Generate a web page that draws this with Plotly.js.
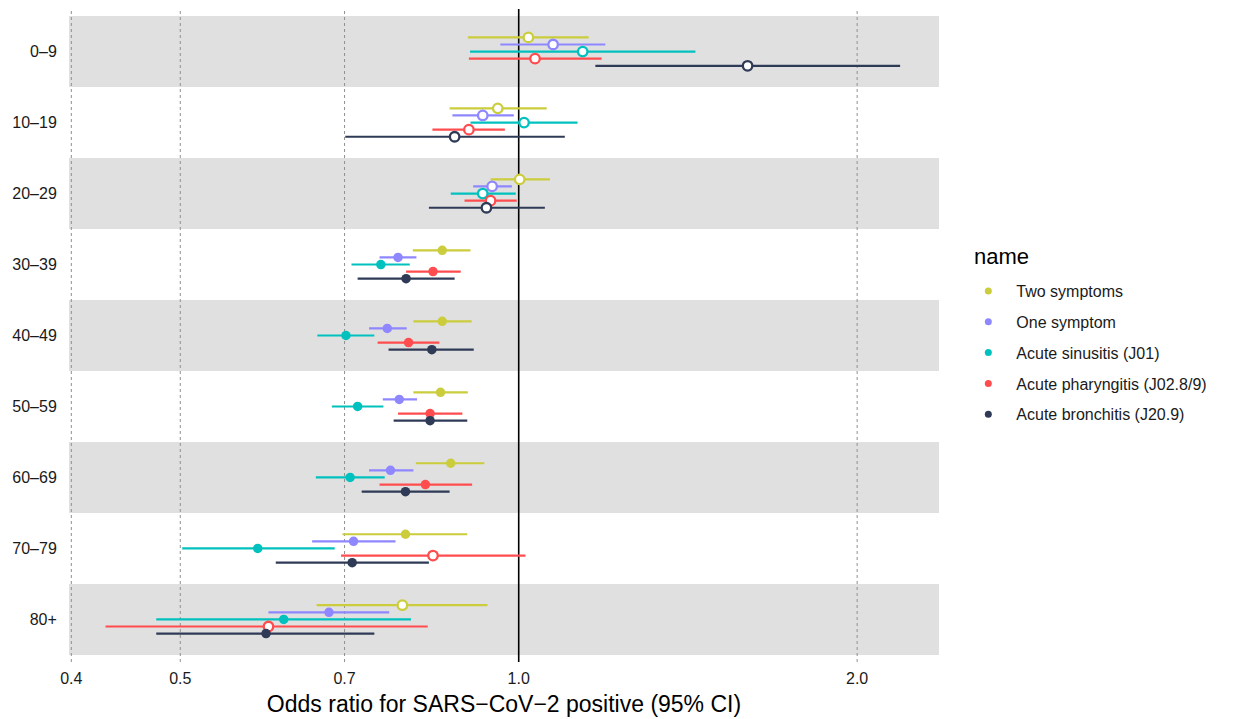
<!DOCTYPE html>
<html>
<head>
<meta charset="utf-8">
<script src="https://cdn.plot.ly/plotly-3.0.1.min.js"></script>
<style>
html,body{margin:0;padding:0;background:#fff;}
#chart{width:1237px;height:719px;}
</style>
</head>
<body>
<div id="chart"></div>
<script>
// ---- data ----
const ageGroups = ["0–9","10–19","20–29","30–39","40–49","50–59","60–69","70–79","80+"];
const seriesNames = ["Two symptoms","One symptom","Acute sinusitis (J01)","Acute pharyngitis (J02.8/9)","Acute bronchitis (J20.9)"];
const seriesColors = ["#CBCD3D","#8F87FF","#00C1BE","#FF4C4F","#2E3A56"];
const legendTitle = "name";
const xTitle = "Odds ratio for SARS−CoV−2 positive (95% CI)";

const twoOR  = [1.020,0.958,1.002,0.855,0.855,0.852,0.870,0.793,0.788];
const twoLo  = [0.901,0.868,0.944,0.805,0.806,0.806,0.810,0.697,0.661];
const twoHi  = [1.154,1.059,1.066,0.906,0.908,0.901,0.932,0.900,0.938];
const twoOpen= [1,1,1,0,0,0,0,0,1];

const oneOR  = [1.073,0.929,0.947,0.781,0.764,0.783,0.769,0.713,0.678];
const oneLo  = [0.963,0.873,0.911,0.752,0.736,0.757,0.736,0.655,0.599];
const oneHi  = [1.194,0.990,0.986,0.811,0.795,0.812,0.806,0.777,0.767];
const oneOpen= [1,1,1,0,0,0,0,0,0];

const sinOR  = [1.140,1.011,0.929,0.754,0.702,0.719,0.708,0.586,0.618];
const sinLo  = [0.905,0.906,0.870,0.710,0.662,0.682,0.660,0.502,0.476];
const sinHi  = [1.436,1.128,0.994,0.800,0.744,0.758,0.760,0.686,0.802];
const sinOpen= [1,1,1,0,0,0,0,0,0];

const phaOR  = [1.034,0.903,0.944,0.839,0.798,0.834,0.826,0.839,0.599];
const phaLo  = [0.903,0.838,0.895,0.794,0.749,0.781,0.752,0.695,0.429];
const phaHi  = [1.185,0.972,0.996,0.888,0.850,0.891,0.909,1.014,0.830];
const phaOpen= [1,1,1,0,0,0,0,1,1];

const broOR  = [1.598,0.877,0.936,0.794,0.837,0.834,0.793,0.711,0.596];
const broLo  = [1.170,0.701,0.832,0.719,0.766,0.774,0.725,0.608,0.476];
const broHi  = [2.184,1.099,1.055,0.877,0.912,0.900,0.868,0.832,0.744];
const broOpen= [1,1,1,0,0,0,0,0,0];

const xTickVals = [0.4,0.5,0.7,1.0,2.0];
const xTickText = ["0.4","0.5","0.7","1.0","2.0"];
const refValue = 1.0;

// ---- build ----
const series = [
  {or:twoOR, lo:twoLo, hi:twoHi, open:twoOpen},
  {or:oneOR, lo:oneLo, hi:oneHi, open:oneOpen},
  {or:sinOR, lo:sinLo, hi:sinHi, open:sinOpen},
  {or:phaOR, lo:phaLo, hi:phaHi, open:phaOpen},
  {or:broOR, lo:broLo, hi:broHi, open:broOpen}
];
const dodge = [-0.2,-0.1,0,0.1,0.2];
const FONT = "Helvetica, Arial, 'Liberation Sans', sans-serif";

const traces = [];
series.forEach((s,k)=>{
  const col = seriesColors[k];
  traces.push({
    type:'scatter', mode:'markers',
    x: s.or,
    y: ageGroups.map((_,i)=>i+dodge[k]),
    error_x:{type:'data', symmetric:false,
      array: s.or.map((v,i)=>s.hi[i]-v),
      arrayminus: s.or.map((v,i)=>v-s.lo[i]),
      color:col, thickness:2.2, width:0},
    marker:{size:9.5, symbol:'circle',
      color: s.open.map(o=>o?'#ffffff':col),
      line:{color:col, width: s.open.map(o=>o?2.3:0)}},
    showlegend:false, hoverinfo:'x'
  });
});
// legend entries
seriesNames.forEach((n,k)=>{
  traces.push({type:'scatter', mode:'markers', x:[null], y:[null], name:n,
    legendgroup:'g'+k,
    marker:{size:7, color:seriesColors[k]}, showlegend:true});
});

const shapes = [];
ageGroups.forEach((g,i)=>{
  if(i%2===0){
    shapes.push({type:'rect', xref:'paper', x0:0, x1:1, yref:'y', y0:i-0.5, y1:i+0.5,
      fillcolor:'#E0E0E0', line:{width:0}, layer:'below'});
  }
});
xTickVals.forEach(v=>{
  if(v!==refValue){
    shapes.push({type:'line', xref:'x', x0:v, x1:v, yref:'paper', y0:0, y1:1,
      line:{color:'#8f8f8f', width:1, dash:'3px,3px'}, layer:'between'});
  }
});
shapes.push({type:'line', xref:'x', x0:refValue, x1:refValue, yref:'paper', y0:0, y1:1,
  line:{color:'#000000', width:1.6}, layer:'between'});

const layout = {
  width:1237, height:719,
  margin:{l:69, r:298, t:9, b:57},
  paper_bgcolor:'#ffffff', plot_bgcolor:'#ffffff',
  font:{family:FONT, color:'#1a1a1a', size:16},
  xaxis:{type:'log', range:[Math.log10(0.3981), Math.log10(2.365)],
    tickvals:xTickVals, ticktext:xTickText,
    showgrid:false, zeroline:false, showline:false,
    ticks:'outside', ticklen:2, tickcolor:'rgba(0,0,0,0)',
    tickfont:{size:16, color:'#1a1a1a'},
    title:{text:xTitle, font:{size:23, color:'#000'}, standoff:9},
    automargin:false},
  yaxis:{range:[8.6,-0.6], tickvals:ageGroups.map((_,i)=>i), ticktext:ageGroups,
    showgrid:false, zeroline:false, showline:false,
    ticks:'outside', ticklen:8, tickcolor:'rgba(0,0,0,0)',
    tickfont:{size:16, color:'#1a1a1a'}, automargin:false},
  shapes:shapes,
  annotations:[{text:legendTitle, xref:'paper', yref:'paper',
    x:(971-69)/869, y:(662-256)/653, xanchor:'left', yanchor:'middle',
    showarrow:false, font:{size:22, color:'#000'}}],
  showlegend:true,
  legend:{x:1.0245, xanchor:'left', y:0.594, yanchor:'top',
    font:{size:16, color:'#1a1a1a'}, tracegroupgap:7, itemwidth:46,
    bgcolor:'rgba(0,0,0,0)'}
};

Plotly.newPlot('chart', traces, layout, {displayModeBar:false, staticPlot:true});
</script>
</body>
</html>
